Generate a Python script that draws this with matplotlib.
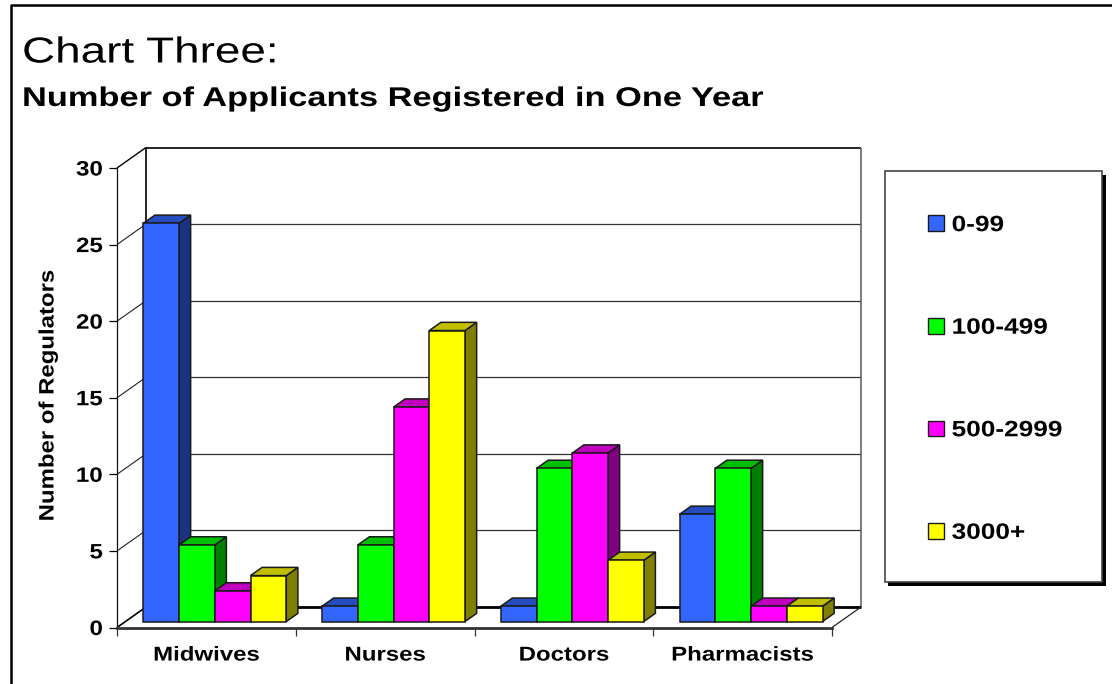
import matplotlib
matplotlib.use('Agg')
import matplotlib.pyplot as plt
from matplotlib.lines import Line2D
from matplotlib.patches import Polygon, Rectangle
from matplotlib.patheffects import AbstractPathEffect
from matplotlib.transforms import Affine2D

W, H = 1112, 684

categories = ['Midwives', 'Nurses', 'Doctors', 'Pharmacists']
series_names = ['0-99', '100-499', '500-2999', '3000+']
values_0_99 = [26, 1, 1, 7]
values_100_499 = [5, 5, 10, 10]
values_500_2999 = [2, 14, 11, 1]
values_3000 = [3, 19, 4, 1]
y_ticks = [0, 5, 10, 15, 20, 25, 30]

front_colors = ['#3366FF', '#00FF00', '#FF00FF', '#FFFF00']
top_colors = ['#264DBF', '#00BF00', '#BF00BF', '#BFBF00']
side_colors = ['#1A3380', '#008000', '#800080', '#808000']

plt.rcParams['font.family'] = ['Liberation Sans', 'DejaVu Sans']

fig = plt.figure(figsize=(W / 100, H / 100), dpi=100)


def fx(px):
    return px / W


def fy(py):
    return 1 - py / H


# the original picture was stretched, so its text is wider than any font here
class Stretch(AbstractPathEffect):
    def __init__(self, sx=1.0, sy=1.0, x0=0, y0=0):
        super().__init__()
        self.extra = Affine2D().translate(-x0, -(H - y0)).scale(sx, sy).translate(x0, H - y0)

    def draw_path(self, renderer, gc, tpath, affine, rgbFace=None):
        renderer.draw_path(gc, tpath, affine + self.extra, rgbFace)


ax = fig.add_axes([fx(117), fy(627.5), 715 / W, 459.5 / H])
ax.set_xlim(0, 4)
ax.set_ylim(0, 30)

# depth of the box in data units, the front plane is z=0 and the back wall z=1
DX = 29 / (715 / 4)
DY = 20.5 / (459.5 / 30)


def proj(x, y, z):
    return (x + z * DX, y + z * DY)


def line3d(p1, p2, color='black', lw=1.0, zorder=1):
    a = proj(*p1)
    b = proj(*p2)
    ax.plot([a[0], b[0]], [a[1], b[1]], color=color, lw=lw, zorder=zorder,
            clip_on=False, solid_capstyle='butt')


def bar3d(x0, x1, h, z0, z1, i, zorder):
    front = [proj(x0, 0, z0), proj(x1, 0, z0), proj(x1, h, z0), proj(x0, h, z0)]
    top = [proj(x0, h, z0), proj(x1, h, z0), proj(x1, h, z1), proj(x0, h, z1)]
    side = [proj(x1, 0, z0), proj(x1, 0, z1), proj(x1, h, z1), proj(x1, h, z0)]
    for pts, col in [(side, side_colors[i]), (top, top_colors[i]), (front, front_colors[i])]:
        ax.add_patch(Polygon(pts, closed=True, facecolor=col, edgecolor='#1a1a1a',
                             lw=1.1, zorder=zorder, clip_on=False))


# walls and gridlines
for v in y_ticks[1:-1]:
    line3d((0, v, 0), (0, v, 1), color='#222222', lw=0.8)
    line3d((0, v, 1), (4, v, 1), color='#333333', lw=0.9)
line3d((0, 30, 0), (0, 30, 1), lw=1.0)
line3d((0, 30, 1), (4, 30, 1), lw=1.2)
line3d((0, 0, 1), (0, 30, 1), lw=1.2)
line3d((4, 0, 1), (4, 30, 1), color='#666666', lw=1.2)
line3d((0, 0, 0), (0, 0, 1), lw=1.2)
line3d((0, 0, 1), (4, 0, 1), lw=2.0)
line3d((4, 0, 0), (4, 0, 1), color='#222222', lw=0.9)

# bars, left to right so the next front face covers the last side face
series = [values_0_99, values_100_499, values_500_2999, values_3000]
bar_w = 1 / 5
z = 0
for c in range(len(categories)):
    for i, vals in enumerate(series):
        x0 = c + bar_w / 2 + i * bar_w
        z += 1
        bar3d(x0, x0 + bar_w, vals[c], 0.29, 0.69, i, 3 + z)

for name in ['top', 'right']:
    ax.spines[name].set_visible(False)
ax.spines['left'].set_linewidth(0.9)
ax.spines['left'].set_color('#111111')
ax.spines['bottom'].set_linewidth(2.0)
ax.spines['bottom'].set_color('#333333')
ax.patch.set_visible(False)

ax.set_yticks(y_ticks)
ax.set_yticklabels([str(v) for v in y_ticks], fontsize=15, fontweight='bold')
ax.tick_params(axis='y', length=6, width=0.9, pad=4)
for t in ax.get_yticklabels():
    t.set_path_effects([Stretch(sx=1.16, x0=104)])
ax.set_xticks([0, 1, 2, 3, 4])
ax.set_xticklabels([])
ax.tick_params(axis='x', which='major', length=6, width=0.9, color='#333333')
ax.set_xticks([0.5, 1.5, 2.5, 3.5], minor=True)
ax.set_xticklabels(categories, minor=True, fontsize=14.4, fontweight='bold')
ax.tick_params(axis='x', which='minor', length=0, pad=13)
for c, t in enumerate(ax.get_xticklabels(minor=True)):
    t.set_path_effects([Stretch(sx=1.2, x0=117 + 715 / 4 * (c + 0.5))])
ax.set_ylabel('Number of Regulators', fontsize=15, fontweight='bold', labelpad=0)
ax.yaxis.set_label_coords((57.5 - 117) / 715, (627.5 - 395) / 459.5)
ax.yaxis.label.set_path_effects([Stretch(sy=1.15, y0=395)])

# outer frame of the slide
fig.add_artist(Line2D([fx(11), fx(11), fx(1112)], [fy(684), fy(5), fy(5)],
                      color='black', lw=1.8))

# legend box with hard shadow
fig.add_artist(Rectangle((fx(888), fy(585.5)), 218 / W, 411 / H, transform=fig.transFigure,
                         facecolor='black', edgecolor='none', zorder=5))
fig.add_artist(Rectangle((fx(884.5), fy(581.5)), 217.5 / W, 411 / H, transform=fig.transFigure,
                         facecolor='white', edgecolor='#444444', lw=1.2, zorder=6))

handles = [Rectangle((0, 0), 1, 1, facecolor=front_colors[i], edgecolor='#1a1a1a', lw=1.0)
           for i in range(4)]
leg = fig.legend(handles, series_names, loc='upper left',
                 bbox_to_anchor=(fx(921), fy(208.5)), frameon=False,
                 prop={'size': 16, 'weight': 'bold'}, labelspacing=3.67,
                 handlelength=0.72, handleheight=0.72, handletextpad=0.36,
                 borderpad=0.3, borderaxespad=0)
leg.set_zorder(7)
for t in leg.get_texts():
    t.set_path_effects([Stretch(sx=1.18, x0=952)])

t1 = fig.text(fx(22), fy(53), 'Chart Three:', fontsize=26, va='center', ha='left')
t1.set_path_effects([Stretch(sx=1.27, x0=22)])
t2 = fig.text(fx(22), fy(99), 'Number of Applicants Registered in One Year', fontsize=19.5,
              va='center', ha='left', fontweight='bold')
t2.set_path_effects([Stretch(sx=1.27, x0=22)])

fig.savefig('out.png', dpi=100)
